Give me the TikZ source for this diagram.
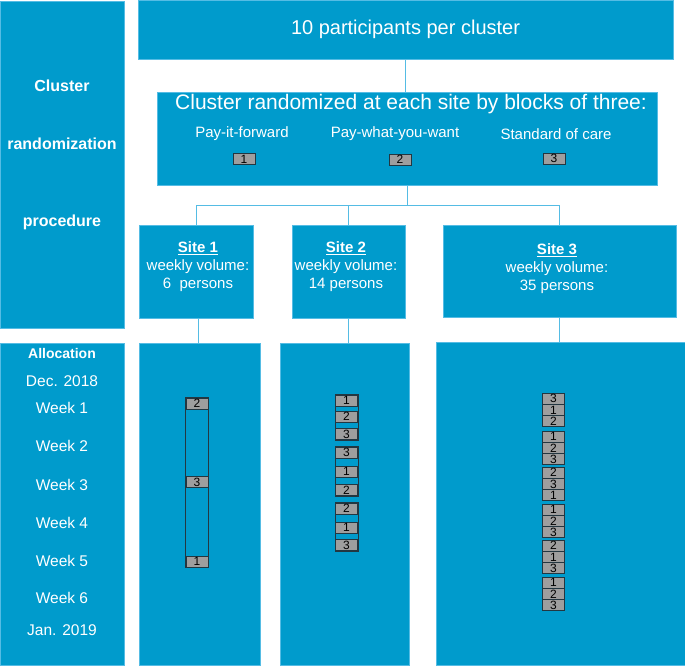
\documentclass[tikz,border=0pt]{standalone}
\usepackage{fontspec}
\setmainfont{Liberation Sans}
\definecolor{cblue}{RGB}{0,155,204}
\definecolor{cline}{RGB}{85,188,228}
\definecolor{cgray}{RGB}{158,158,158}
\definecolor{cdark}{RGB}{35,55,65}
\tikzset{
  box/.style={rectangle, fill=cblue, draw=cline, line width=0.6pt, inner sep=0pt},
  conn/.style={draw=cline, line width=1pt},
  blk/.style={rectangle, fill=cgray, draw=cdark, line width=0.9pt, minimum width=22pt, minimum height=11pt, inner sep=0pt, font=\fontsize{12}{12}\selectfont},
  outl/.style={draw=cdark, line width=0.6pt},
  wt/.style={text=white, inner sep=0pt, align=center},
  side/.style={wt, font=\fontsize{16}{16}\selectfont\bfseries},
  week/.style={wt, font=\fontsize{15.5}{16}\selectfont},
  arm/.style={wt, font=\fontsize{15}{15}\selectfont},
  sitetxt/.style={wt, font=\fontsize{15}{18}\selectfont},
}
\begin{document}
\begin{tikzpicture}[x=1pt,y=-1pt]
\useasboundingbox (0,0) rectangle (685,665);
% left column
\node[box, minimum width=124pt, minimum height=327pt] (lefttop) at (62,164.5) {};
\node[box, minimum width=124pt, minimum height=322pt] (leftbot) at (62,504) {};
\node[side] (lc1) at (62,86) {Cluster};
\node[side] (lc2) at (62,144) {randomization};
\node[side] (lc3) at (62,222) {procedure};
\node[wt, font=\fontsize{14}{14}\selectfont\bfseries] (alloc) at (62,353) {Allocation};
\node[week] (dec) at (62,381) {Dec. 2018};
\node[week] (w1) at (62,408) {Week 1};
\node[week] (w2) at (62,446) {Week 2};
\node[week] (w3) at (62,485) {Week 3};
\node[week] (w4) at (62,523) {Week 4};
\node[week] (w5) at (62,561) {Week 5};
\node[week] (w6) at (62,598) {Week 6};
\node[week] (jan) at (62,630) {Jan. 2019};
% top boxes
\node[box, minimum width=535pt, minimum height=59pt, text=white, font=\fontsize{20}{20}\selectfont] (top) at (405.5,29.5) {10 participants per cluster};
\node[box, minimum width=500pt, minimum height=93pt] (cluster) at (407,138.5) {};
\node[wt, font=\fontsize{21}{21}\selectfont] (ctitle) at (411,104) {Cluster randomized at each site by blocks of three:};
\node[arm] (arm1) at (242,134) {Pay-it-forward};
\node[arm] (arm2) at (395,134) {Pay-what-you-want};
\node[arm] (arm3) at (556,134) {Standard of care};
\node[blk] (k1) at (244,159) {1};
\node[blk] (k2) at (400,159.5) {2};
\node[blk] (k3) at (554,158.5) {3};
% sites
\node[box, minimum width=114pt, minimum height=93pt] (site1) at (196,271.5) {};
\node[box, minimum width=113pt, minimum height=93pt] (site2) at (348.5,271.5) {};
\node[box, minimum width=233pt, minimum height=92pt] (site3) at (559.5,271) {};
\node[sitetxt] (t1) at (198,267) {\underline{\textbf{Site 1}}\\weekly volume:\\6\ \ persons};
\node[sitetxt] (t2) at (346,267) {\underline{\textbf{Site 2}}\\weekly volume:\\14 persons};
\node[sitetxt] (t3) at (557,269) {\underline{\textbf{Site 3}}\\weekly volume:\\35 persons};
% allocation boxes
\node[box, minimum width=121pt, minimum height=322pt] (alloc1) at (199.5,504) {};
\node[box, minimum width=129pt, minimum height=322pt] (alloc2) at (344.5,504) {};
\node[box, minimum width=249pt, minimum height=323pt] (alloc3) at (560.5,503.5) {};
% connectors
\coordinate (bar) at (407,205.5);
\draw[conn] (top.south) -- (top.south |- cluster.north);
\draw[conn] (cluster.south) -- (bar);
\draw[conn] (site1.north) |- (bar) -| (site3.north);
\draw[conn] (site2.north) -- (site2.north |- bar);
\draw[conn] ([xshift=2pt]site1.south) -- ([xshift=2pt]site1.south |- alloc1.north);
\draw[conn] (site2.south) -- (site2.south |- alloc2.north);
\draw[conn] (site3.south) -- (site3.south |- alloc3.north);
% site 1 blocks
\node[blk] (a1) at (197,403.5) {2};
\node[blk] (a2) at (197,482) {3};
\node[blk] (a3) at (197,561.5) {1};
\draw[outl] (a1.north west) rectangle (a3.south east);
% site 2 blocks
\node[blk] (b1) at (346.5,400.5) {1};
\node[blk] (b2) at (346.5,416.5) {2};
\node[blk] (b3) at (346.5,434) {3};
\node[blk] (b4) at (346.5,452.5) {3};
\node[blk] (b5) at (346.5,471.5) {1};
\node[blk] (b6) at (346.5,490) {2};
\node[blk] (b7) at (346.5,508.5) {2};
\node[blk] (b8) at (346.5,527.5) {1};
\node[blk] (b9) at (346.5,545) {3};
\draw[outl] (b1.north west) rectangle (b3.south east);
\draw[outl] (b4.north west) rectangle (b6.south east);
\draw[outl] (b7.north west) rectangle (b9.south east);
% site 3 blocks
\foreach \g/\ys/\p/\q/\r in {1/393/3/1/2, 2/431/1/2/3, 3/467/2/3/1, 4/504/1/2/3, 5/540/2/1/3, 6/577/1/2/3}{
  \node[blk, minimum height=11.3pt] (c\g a) at (553.5,\ys+5.65) {\p};
  \node[blk, minimum height=11.3pt] (c\g b) at (553.5,\ys+16.95) {\q};
  \node[blk, minimum height=11.3pt] (c\g c) at (553.5,\ys+28.25) {\r};
}
\end{tikzpicture}
\end{document}
